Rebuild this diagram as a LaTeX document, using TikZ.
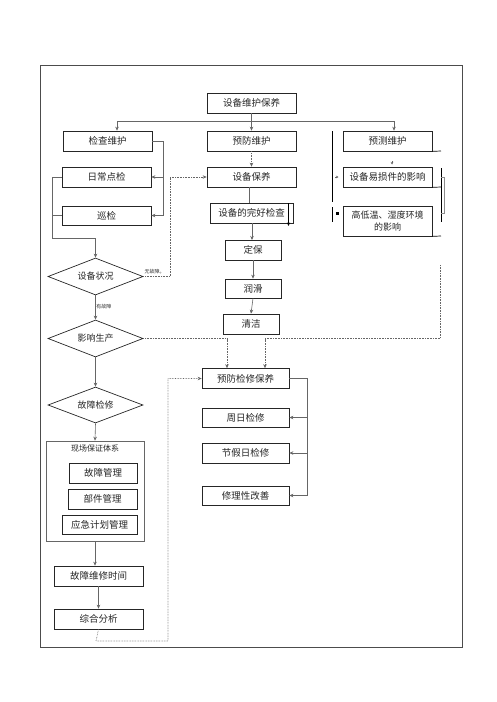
\documentclass[tikz,border=0pt]{standalone}
\usepackage{fontspec}
\setmainfont{Noto Sans CJK SC}
\usetikzlibrary{arrows.meta,shapes.geometric}
\begin{document}
\begin{tikzpicture}[x=1pt,y=-1pt,
  box/.style={draw=black!85,line width=0.7pt,inner sep=0pt,font=\fontsize{9.5}{11}\selectfont,text=black!85},
  bx/.style 2 args={box,minimum width=#1pt,minimum height=#2pt},
  dia/.style={draw=black!85,line width=0.7pt,diamond,inner sep=0pt,aspect=2.5,minimum width=95pt,minimum height=37pt,font=\fontsize{9}{11}\selectfont,text=black!85},
  con/.style={draw=black!60,line width=0.6pt},
  arr/.style={con,-{Stealth[length=4pt,width=3.5pt]}},
  darr/.style={draw=black!60,line width=0.6pt,densely dotted,-{Stealth[length=4pt,width=3.5pt]}},
  dcon/.style={draw=black!60,line width=0.6pt,densely dotted},
  lbl/.style={font=\fontsize{5}{6}\selectfont,inner sep=0.5pt,text=black!80}]
\useasboundingbox (0,0) rectangle (496,702);
\draw[draw=black!70,line width=0.9pt] (40,65) rectangle (462,647);

% top row
\node[bx={89}{20}] (top) at (251.5,103) {设备维护保养};
\node[bx={89}{20}] (jc) at (107.5,141) {检查维护};
\node[bx={89}{20}] (yf) at (251.5,141) {预防维护};
\node[bx={89}{20}] (yc) at (387.5,141) {预测维护};

% left column
\node[bx={89}{20}] (rc) at (106.5,177) {日常点检};
\node[bx={89}{19}] (xj) at (106.5,215.5) {巡检};
\node[dia] (zt) at (95.5,276.5) {设备状况};
\node[dia] (yx) at (95.5,338.5) {影响生产};
\node[dia,minimum height=36pt] (gz) at (95.5,405) {故障检修};
\node[draw=black!60,line width=0.6pt,minimum width=98pt,minimum height=100pt,inner sep=0pt] (xc) at (95,491) {};
\node[font=\fontsize{8}{9}\selectfont,text=black!85,inner sep=0pt] (xct) at (95,448) {现场保证体系};
\node[bx={68}{20}] (gzgl) at (103,473) {故障管理};
\node[bx={69}{20}] (bj) at (102.5,499) {部件管理};
\node[bx={75}{19}] (yj) at (99.5,524.5) {应急计划管理};
\node[bx={89}{20}] (wx) at (98.5,576) {故障维修时间};
\node[bx={89}{20}] (zh) at (98.5,619) {综合分析};

% middle column
\node[bx={89}{20}] (by) at (251.5,177) {设备保养};
\node[bx={83}{20}] (wh) at (251.5,213) {设备的完好检查};
\node[bx={56}{20}] (db) at (253,250) {定保};
\node[bx={56}{19}] (rh) at (253,288.5) {润滑};
\node[bx={56}{20}] (qj) at (251,324) {清洁};
\node[bx={87}{20}] (yfjx) at (245.5,378.5) {预防检修保养};
\node[bx={87}{19}] (zr) at (245.5,417.5) {周日检修};
\node[bx={87}{20}] (jj) at (245.5,453) {节假日检修};
\node[bx={87}{19}] (xl) at (245.5,495.5) {修理性改善};

% right column
\node[bx={89}{20}] (yss) at (387.5,177) {设备易损件的影响};
\node[bx={89}{30},align=center,font=\fontsize{9}{12}\selectfont] (gdw) at (387.5,221) {高低温、湿度环境\\的影响};

% top connectors
\coordinate (tj) at (251.5,121);
\draw[arr] (top.south) -- (yf.north);
\draw[con] (117,121) -- (394,121);
\coordinate (ja) at (117,121);
\coordinate (jb) at (394,121);
\draw[arr] (ja) -- (ja |- jc.north);
\draw[arr] (jb) -- (jb |- yc.north);

% 检查维护 branches
\coordinate (jr) at (163,141);
\draw[con] (jc.east) -- (jr) -- (163,215.5);
\draw[arr] (163,177) -- (rc.east);
\draw[arr] (163,215.5) -- (xj.east);

% left merge to 设备状况
\coordinate (lm) at (52,238);
\draw[con] (rc.west) -- (52,177) -- (lm) -- (95.5,238);
\draw[con] (xj.west) -- (52,215.5);
\draw[arr] (95.5,238) -- (zt.north);

% 无故障
\coordinate (nf) at (170,276.5);
\draw[darr] (zt.east) -- (nf) -- (170,177) -- (by.west);
\node[lbl,anchor=south west] (nfl) at (144,275) {无故障。};

% 有故障
\draw[arr] (zt.south) -- node[lbl,right,pos=0.45] (yfl) {有故障} (yx.north);

% 影响生产 -> 预防检修保养
\coordinate (ya) at (227,338.5);
\draw[darr] (yx.east) -- (ya) -- (ya |- yfjx.north);
\coordinate (ra) at (440,265);
\coordinate (rb) at (265,338.5);
\draw[darr] (ra) -- (440,338.5) -- (rb) -- (rb |- yfjx.north);

% left column flow
\draw[arr] (yx.south) -- (gz.north);
\draw[arr] (gz.south) -- (xc.north);
\draw[arr] (xc.south) -- (xc.south |- wx.north);
\draw[arr] (wx.south) -- (zh.north);

% 综合分析 back loop
\coordinate (zb) at (96,641);
\draw[darr] (zh.south) -- (zb) -- (168,641) -- (168,378.5) -- (yfjx.west);

% middle flow
\draw[darr] (yf.south) -- (by.north);
\draw[con] (249,187) -- (249,203);
\draw[arr] (252,223) -- (252,240);
\draw[con,-{Stealth[length=3.5pt,width=3pt]},draw=black] (288.5,203) -- (288.5,226);
\draw[arr] (db.south) -- (rh.north);
\draw[arr] (rh.south) -- (qj.north);

% 预防检修保养 branches
\coordinate (pr) at (307,378.5);
\draw[con] (yfjx.east) -- (pr) -- (307,495.5);
\draw[arr] (307,417.5) -- (zr.east);
\draw[arr] (307,453) -- (jj.east);
\draw[arr] (307,495.5) -- (xl.east);

% right column marks
\draw[draw=black,line width=0.7pt] (yc.south east) -- (441,151);
\draw[draw=black,line width=0.7pt] (yss.south east) -- (441,187);
\draw[draw=black,line width=0.7pt] (gdw.south east) -- (441,236);
\draw[draw=black,line width=0.7pt] (441,168) -- (441,222);
\draw[draw=black!45,line width=0.8pt] (441,177) -- (444,177) -- (444,213) -- (441,213);
\draw[draw=black,line width=0.7pt] (332,131) -- (332,202);
\draw[draw=black,line width=0.7pt] (332,207) -- (332,222);
\draw[con,-{Stealth[length=2.5pt,width=2.5pt]}] (392,161) -- (392,164.5);
\draw[con,-{Stealth[length=2.5pt,width=2.5pt]}] (335,177) -- (338.5,177);
\fill[black] (335.5,211.5) rectangle (338.5,214.5);
\end{tikzpicture}
\end{document}
